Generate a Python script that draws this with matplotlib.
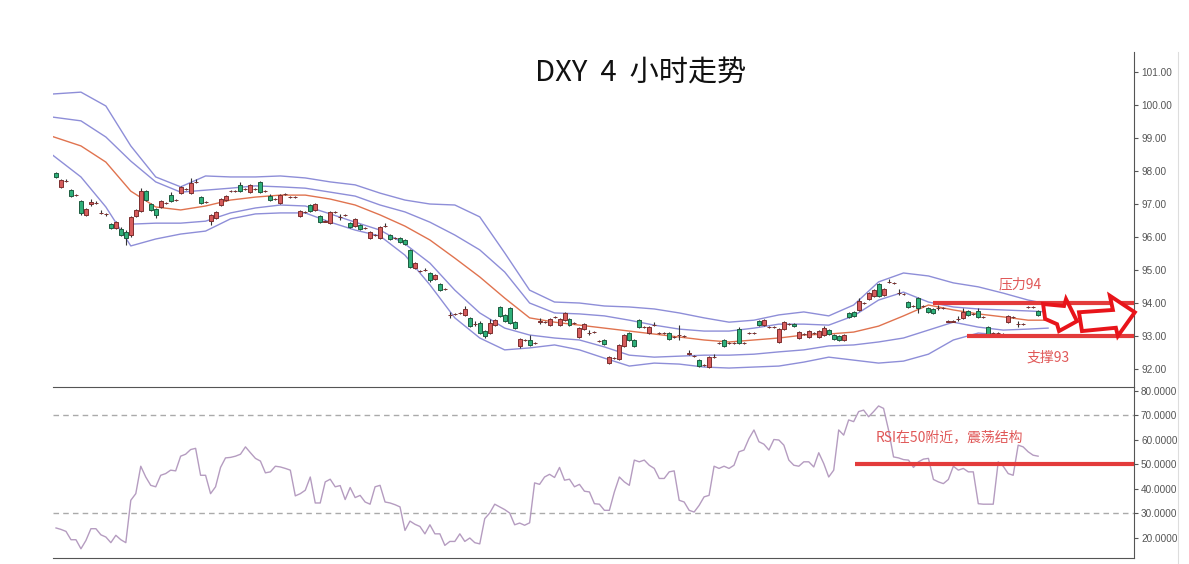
import numpy as np
import matplotlib
matplotlib.use('Agg')
import matplotlib.pyplot as plt
from matplotlib.patches import Polygon
from matplotlib.lines import Line2D

plt.rcParams['font.family'] = ['Noto Sans CJK SC', 'DejaVu Sans']

# DXY 4小时 K线 (开, 高, 低, 收)
opens = [
    97.94, 97.52, 97.69, 97.43, 97.26, 97.09, 96.67, 97.00, 97.02, 96.72,
    96.69, 96.39, 96.27, 96.24, 96.15, 96.06, 96.64, 96.79, 97.39, 97.00,
    96.85, 96.91, 97.02, 97.27, 97.11, 97.33, 97.44, 97.33, 97.66, 97.21,
    97.05, 96.48, 96.58, 96.97, 97.12, 97.38, 97.38, 97.58, 97.44, 97.36,
    97.44, 97.67, 97.38, 97.24, 97.14, 97.03, 97.29, 97.20, 97.20, 96.64,
    96.75, 96.97, 96.82, 96.64, 96.47, 96.42, 96.75, 96.60, 96.66, 96.42,
    96.33, 96.36, 96.26, 95.97, 96.05, 95.97, 96.32, 96.06, 95.96, 95.97,
    95.91, 95.61, 95.06, 94.96, 94.99, 94.91, 94.73, 94.58, 94.41, 93.63,
    93.66, 93.69, 93.64, 93.55, 93.35, 93.39, 93.15, 93.09, 93.33, 93.88,
    93.64, 93.85, 93.42, 92.70, 92.87, 92.88, 92.78, 93.44, 93.41, 93.33,
    93.57, 93.33, 93.48, 93.52, 93.38, 92.97, 93.21, 93.08, 93.11, 92.84,
    92.88, 92.18, 92.32, 92.30, 92.70, 93.09, 92.88, 93.48, 93.26, 93.09,
    93.32, 93.08, 93.08, 93.09, 92.96, 93.02, 92.99, 92.47, 92.38, 92.27,
    92.11, 92.06, 92.35, 92.78, 92.88, 92.78, 92.78, 93.21, 92.78, 93.08,
    93.08, 93.45, 93.33, 93.26, 93.26, 92.82, 93.21, 93.35, 93.36, 92.94,
    93.05, 92.97, 93.08, 92.97, 93.03, 93.18, 93.03, 93.00, 92.88, 93.70,
    93.73, 93.79, 93.99, 94.12, 94.21, 94.58, 94.24, 94.63, 94.60, 94.29,
    94.26, 94.03, 93.90, 94.15, 93.90, 93.85, 93.82, 93.84, 93.84, 93.44,
    93.44, 93.51, 93.55, 93.76, 93.66, 93.76, 93.57, 93.27, 93.08, 93.08,
    93.05, 93.42, 93.57, 93.35, 93.35, 93.87, 93.87, 93.76,
]
highs = [
    97.97, 97.76, 97.76, 97.46, 97.30, 97.12, 96.88, 97.15, 97.08, 96.82,
    96.73, 96.42, 96.48, 96.30, 96.21, 96.64, 96.85, 97.48, 97.42, 97.03,
    96.88, 97.12, 97.06, 97.36, 97.15, 97.55, 97.48, 97.79, 97.76, 97.24,
    97.09, 96.70, 96.79, 97.18, 97.27, 97.42, 97.42, 97.67, 97.48, 97.61,
    97.48, 97.70, 97.42, 97.30, 97.18, 97.30, 97.33, 97.24, 97.24, 96.82,
    96.79, 97.00, 97.03, 96.67, 96.51, 96.79, 96.79, 96.70, 96.70, 96.45,
    96.58, 96.39, 96.30, 96.18, 96.09, 96.33, 96.42, 96.09, 96.00, 96.00,
    95.94, 95.64, 95.24, 95.00, 95.06, 94.94, 94.88, 94.61, 94.45, 93.73,
    93.70, 93.73, 93.91, 93.58, 93.45, 93.45, 93.18, 93.52, 93.51, 93.91,
    93.67, 93.88, 93.45, 92.94, 92.91, 93.03, 92.82, 93.55, 93.45, 93.55,
    93.61, 93.55, 93.73, 93.55, 93.42, 93.27, 93.39, 93.18, 93.15, 92.88,
    92.91, 92.39, 92.36, 92.76, 93.06, 93.12, 92.91, 93.51, 93.30, 93.30,
    93.42, 93.12, 93.12, 93.12, 93.00, 93.33, 93.03, 92.58, 92.42, 92.30,
    92.15, 92.39, 92.45, 92.82, 92.91, 92.82, 92.82, 93.27, 92.82, 93.12,
    93.12, 93.48, 93.51, 93.30, 93.30, 93.24, 93.45, 93.39, 93.39, 93.15,
    93.09, 93.18, 93.12, 93.18, 93.30, 93.21, 93.06, 93.03, 93.06, 93.73,
    93.76, 94.15, 94.03, 94.33, 94.42, 94.61, 94.45, 94.73, 94.64, 94.42,
    94.30, 94.06, 93.94, 94.18, 93.94, 93.88, 93.85, 93.94, 93.88, 93.48,
    93.48, 93.61, 93.85, 93.79, 93.70, 93.85, 93.61, 93.30, 93.12, 93.12,
    93.09, 93.64, 93.61, 93.45, 93.39, 93.91, 93.91, 93.79,
]
lows = [
    97.79, 97.49, 97.66, 97.21, 97.24, 96.67, 96.64, 96.94, 97.00, 96.70,
    96.64, 96.24, 96.24, 96.03, 95.76, 96.00, 96.61, 96.76, 97.09, 96.79,
    96.58, 96.88, 97.00, 97.06, 97.09, 97.30, 97.42, 97.30, 97.64, 97.00,
    97.03, 96.36, 96.55, 96.94, 97.09, 97.36, 97.36, 97.36, 97.42, 97.33,
    97.42, 97.33, 97.36, 97.09, 97.12, 97.00, 97.27, 97.18, 97.18, 96.61,
    96.73, 96.76, 96.79, 96.42, 96.45, 96.39, 96.73, 96.52, 96.64, 96.27,
    96.30, 96.21, 96.24, 95.94, 96.03, 95.94, 96.30, 95.91, 95.94, 95.82,
    95.76, 95.06, 95.03, 94.94, 94.97, 94.64, 94.70, 94.36, 94.39, 93.55,
    93.64, 93.67, 93.61, 93.27, 93.30, 93.06, 92.94, 93.06, 93.30, 93.58,
    93.42, 93.36, 93.21, 92.64, 92.85, 92.70, 92.76, 93.36, 93.39, 93.30,
    93.55, 93.30, 93.45, 93.30, 93.36, 92.94, 93.18, 93.03, 93.09, 92.82,
    92.73, 92.15, 92.30, 92.27, 92.67, 92.85, 92.67, 93.24, 93.24, 93.06,
    93.30, 93.06, 93.06, 92.88, 92.94, 92.88, 92.97, 92.42, 92.36, 92.06,
    92.09, 92.03, 92.33, 92.76, 92.67, 92.76, 92.76, 92.76, 92.76, 93.06,
    93.06, 93.30, 93.30, 93.24, 93.24, 92.79, 93.18, 93.33, 93.27, 92.91,
    93.03, 92.94, 93.06, 92.94, 93.00, 93.03, 92.88, 92.85, 92.85, 93.55,
    93.58, 93.76, 93.97, 94.09, 94.18, 94.18, 94.21, 94.61, 94.58, 94.24,
    94.24, 93.85, 93.88, 93.70, 93.88, 93.70, 93.67, 93.79, 93.82, 93.42,
    93.42, 93.45, 93.52, 93.61, 93.64, 93.55, 93.55, 93.03, 93.06, 93.06,
    93.03, 93.39, 93.55, 93.27, 93.33, 93.85, 93.85, 93.61,
]
closes = [
    97.82, 97.73, 97.71, 97.24, 97.28, 96.73, 96.85, 97.06, 97.04, 96.74,
    96.71, 96.27, 96.45, 96.06, 95.97, 96.61, 96.82, 97.39, 97.12, 96.82,
    96.67, 97.09, 97.04, 97.09, 97.13, 97.52, 97.46, 97.64, 97.68, 97.03,
    97.07, 96.67, 96.76, 97.15, 97.24, 97.40, 97.40, 97.39, 97.46, 97.58,
    97.46, 97.36, 97.40, 97.12, 97.16, 97.27, 97.31, 97.22, 97.22, 96.79,
    96.77, 96.79, 97.00, 96.45, 96.49, 96.76, 96.77, 96.62, 96.68, 96.30,
    96.55, 96.24, 96.28, 96.15, 96.07, 96.30, 96.34, 95.94, 95.98, 95.85,
    95.79, 95.09, 95.21, 94.98, 95.01, 94.70, 94.85, 94.39, 94.43, 93.65,
    93.68, 93.71, 93.82, 93.30, 93.37, 93.09, 93.00, 93.39, 93.48, 93.61,
    93.45, 93.39, 93.24, 92.91, 92.89, 92.73, 92.80, 93.46, 93.43, 93.52,
    93.59, 93.52, 93.70, 93.33, 93.40, 93.24, 93.36, 93.10, 93.13, 92.86,
    92.76, 92.36, 92.34, 92.73, 93.03, 92.88, 92.70, 93.27, 93.28, 93.27,
    93.34, 93.10, 93.10, 92.91, 92.98, 93.04, 93.01, 92.49, 92.40, 92.09,
    92.13, 92.36, 92.37, 92.80, 92.70, 92.80, 92.80, 92.79, 92.80, 93.10,
    93.10, 93.33, 93.48, 93.28, 93.28, 93.21, 93.42, 93.37, 93.30, 93.12,
    93.07, 93.15, 93.10, 93.15, 93.24, 93.06, 92.91, 92.88, 93.03, 93.58,
    93.61, 94.06, 94.01, 94.30, 94.39, 94.21, 94.42, 94.65, 94.62, 94.31,
    94.28, 93.88, 93.92, 93.85, 93.92, 93.73, 93.70, 93.86, 93.86, 93.46,
    93.46, 93.53, 93.73, 93.64, 93.68, 93.58, 93.59, 93.06, 93.10, 93.10,
    93.07, 93.61, 93.59, 93.37, 93.37, 93.89, 93.89, 93.64,
]

# 布林带 (按K线序号取样)
band_x = [-1, 5, 10, 15, 20, 25, 30, 35, 40, 45, 50, 55, 60, 65, 70, 75, 80,
          85, 90, 95, 100, 105, 110, 115, 120, 125, 130, 135, 140, 145, 150,
          155, 160, 165, 170, 175, 180, 185, 190, 195, 199]
upper_outer = [100.33, 100.39, 99.97, 98.76, 97.82, 97.52, 97.85, 97.82, 97.82,
               97.85, 97.79, 97.67, 97.58, 97.33, 97.12, 97.00, 96.97, 96.61,
               95.52, 94.39, 94.03, 94.00, 93.91, 93.88, 93.82, 93.70, 93.55,
               93.42, 93.48, 93.64, 93.73, 93.61, 93.94, 94.64, 94.91, 94.82,
               94.61, 94.49, 94.30, 94.09, 93.97]
upper_inner = [99.64, 99.52, 99.03, 98.30, 97.67, 97.36, 97.42, 97.48, 97.55,
               97.52, 97.48, 97.36, 97.24, 96.97, 96.76, 96.45, 96.06, 95.61,
               94.94, 94.00, 93.70, 93.67, 93.61, 93.48, 93.33, 93.21, 93.15,
               93.15, 93.24, 93.36, 93.36, 93.33, 93.61, 94.09, 94.33, 94.03,
               93.88, 93.82, 93.79, 93.76, 93.73]
middle = [99.06, 98.76, 98.27, 97.39, 96.91, 96.82, 96.94, 97.12, 97.21, 97.27,
          97.27, 97.15, 96.97, 96.67, 96.33, 95.91, 95.36, 94.79, 94.15, 93.55,
          93.42, 93.33, 93.24, 93.15, 93.06, 92.97, 92.88, 92.82, 92.88, 92.94,
          93.03, 93.06, 93.12, 93.30, 93.61, 93.94, 93.79, 93.67, 93.58, 93.48,
          93.48]
lower_inner = [None, None, None, 96.39, 96.42, 96.42, 96.48, 96.73, 96.88, 96.97,
               96.94, 96.70, 96.45, 96.21, 95.79, 95.21, 94.39, 93.70, 93.24,
               93.03, 92.94, 92.88, 92.67, 92.42, 92.36, 92.39, 92.42, 92.42,
               92.45, 92.52, 92.58, 92.70, 92.73, 92.82, 92.94, 93.18, 93.42,
               93.27, 93.18, 93.21, 93.24]
lower_outer = [98.52, 97.82, 96.91, 95.73, 95.94, 96.09, 96.18, 96.55, 96.70,
               96.73, 96.73, 96.45, 96.21, 96.03, 95.45, 94.55, 93.55, 92.94,
               92.58, 92.64, 92.73, 92.58, 92.33, 92.09, 92.18, 92.15, 92.06,
               92.03, 92.06, 92.09, 92.21, 92.36, 92.27, 92.18, 92.24, 92.45,
               92.88, 93.09, 93.03, 93.03, 93.00]

# RSI
rsi = [
    23.9, 23.3, 22.5, 19.1, 19.1, 15.4, 18.8, 23.6, 23.6, 21.1,
    20.2, 17.9, 20.9, 19.1, 17.9, 35.2, 37.9, 49.1, 44.7, 41.3,
    40.7, 45.4, 46.1, 47.5, 47.2, 53.2, 54.0, 55.9, 56.4, 45.4,
    45.4, 37.9, 40.7, 48.6, 52.5, 52.7, 53.2, 54.0, 57.0, 54.6,
    52.3, 51.2, 46.4, 46.8, 49.1, 48.8, 48.2, 47.5, 37.0, 37.9,
    39.3, 44.7, 34.1, 34.1, 42.7, 43.8, 40.7, 41.2, 35.5, 40.4,
    36.3, 37.2, 34.5, 33.6, 40.7, 41.3, 34.5, 34.1, 33.4, 32.5,
    22.9, 26.7, 25.4, 24.5, 21.5, 25.2, 21.5, 21.5, 16.8, 18.4,
    18.4, 21.5, 18.4, 19.8, 17.9, 17.4, 27.7, 30.0, 33.6, 32.5,
    31.4, 30.0, 25.2, 25.9, 25.0, 26.0, 42.3, 41.7, 44.7, 45.8,
    44.5, 48.6, 43.4, 43.8, 40.7, 41.7, 38.9, 38.6, 33.8,
    33.6, 31.1, 31.1, 38.6, 44.7, 42.7, 41.3, 51.6, 50.9, 51.6,
    49.5, 48.2, 44.1, 44.1, 46.8, 47.2, 35.2, 34.5, 31.1, 30.4,
    33.1, 36.6, 37.2, 49.1, 48.2, 49.1, 48.2, 49.5, 55.0, 55.7,
    60.4, 63.9, 59.1, 58.1, 55.7, 60.0, 59.8, 57.7, 51.6, 49.5,
    49.1, 50.9, 50.9, 48.8, 54.6, 50.2, 44.7, 47.5, 63.9, 61.8,
    68.0, 67.3, 71.4, 72.0, 69.3, 71.4, 73.7, 72.7, 63.9, 52.9,
    52.5, 51.8, 51.6, 48.6, 50.9, 52.0, 52.3, 43.7, 42.7, 42.0,
    43.7, 49.1, 47.5, 48.2, 46.8, 46.8, 33.8, 33.6, 33.6, 33.6,
    50.9, 49.1, 46.1, 45.4, 57.7, 57.0, 55.0, 53.6, 53.2,
]

price_ticks = [92, 93, 94, 95, 96, 97, 98, 99, 100, 101]
rsi_ticks = [20, 30, 40, 50, 60, 70, 80]

RED = '#d65c5c'
GREEN = '#2fb07a'
BAND = '#8e8ed8'
MID = '#e0734f'
MARK = '#e33b3b'

fig = plt.figure(figsize=(11.89, 5.64), dpi=100)
ax = fig.add_axes([0.0446, 0.3138, 0.9092, 0.5940])
ax2 = fig.add_axes([0.0446, 0.0106, 0.9092, 0.3032], sharex=ax)

o = np.array(opens)
h = np.array(highs)
l = np.array(lows)
c = np.array(closes)
idx = np.arange(len(c))

up = c >= o
colors = np.where(up, RED, GREEN)
edges = np.where(up, '#7d2f2f', '#1e5c40')
ax.vlines(idx, l, h, color='#333333', lw=0.8, zorder=2)
ax.bar(idx, np.maximum(np.abs(c - o), 0.015), bottom=np.minimum(o, c),
       width=0.8, color=colors, edgecolor=edges, linewidth=0.7, zorder=3)

for vals, col in [(upper_outer, BAND), (upper_inner, BAND), (middle, MID),
                  (lower_inner, BAND), (lower_outer, BAND)]:
    ax.plot(band_x, np.array(vals, dtype=float), color=col, lw=1.0, zorder=1,
            solid_joinstyle='round')

xmin, xmax = -0.6, 216.25
ax.set_xlim(xmin, xmax)
ax.set_ylim(91.455, 101.606)

# 压力 / 支撑
ax.hlines(94, 175.9, xmax, color=MARK, lw=3.0, zorder=4, clip_on=False)
ax.hlines(93, 182.7, xmax, color=MARK, lw=3.0, zorder=4, clip_on=False)
ax.text(193.4, 94.55, '压力94', color='#e05858', fontsize=10, ha='center', va='center')
ax.text(199.0, 92.36, '支撑93', color='#e05858', fontsize=10, ha='center', va='center')

arrow1 = [(198.0, 93.97), (202.2, 93.91), (202.6, 94.12), (204.8, 93.45),
          (201.2, 93.15), (200.8, 93.36), (198.4, 93.52)]
arrow2 = [(205.2, 93.72), (212.0, 93.79), (211.4, 94.22), (216.4, 93.72),
          (213.0, 93.00), (212.6, 93.25), (205.8, 93.15)]
for pts in (arrow1, arrow2):
    ax.add_patch(Polygon(pts, closed=True, facecolor='white', edgecolor='#e8141a',
                         lw=2.8, joinstyle='miter', zorder=6, clip_on=False))

# RSI
ax2.plot(idx, rsi, color='#b59cc0', lw=1.0, zorder=2)
ax2.axhline(70, color='#aaaaaa', lw=1.0, ls=(0, (4, 3)), zorder=1)
ax2.axhline(30, color='#aaaaaa', lw=1.0, ls=(0, (4, 3)), zorder=1)
ax2.hlines(50, 160.3, xmax, color=MARK, lw=3.0, zorder=4, clip_on=False)
ax2.text(179.3, 61.0, 'RSI在50附近，震荡结构', color='#e05858', fontsize=10,
         ha='center', va='center')
ax2.set_ylim(11.63, 81.43)

for a, ticks, fmt in [(ax, price_ticks, '{:.2f}'), (ax2, rsi_ticks, '{:.4f}')]:
    a.yaxis.tick_right()
    a.set_yticks(ticks)
    a.set_yticklabels([fmt.format(t) for t in ticks], fontsize=7.2,
                      color='#555555', family='Liberation Sans')
    a.tick_params(axis='y', direction='out', length=3, width=0.8,
                  colors='#555555', pad=2)
    a.tick_params(axis='x', bottom=False, labelbottom=False)
    a.spines['left'].set_visible(False)
    a.spines['top'].set_visible(False)
    a.spines['right'].set_color('#555555')
    a.spines['bottom'].set_color('#555555')
    a.set_facecolor('none')

fig.text(641 / 1189, 1 - 73 / 564, 'DXY  4  小时走势', fontsize=21,
         ha='center', va='center', color='#111111')
fig.add_artist(Line2D([1178 / 1189, 1178 / 1189], [0, 1 - 52 / 564],
                      color='#dddddd', lw=0.8))

plt.savefig('out.png', dpi=100, facecolor='white')
